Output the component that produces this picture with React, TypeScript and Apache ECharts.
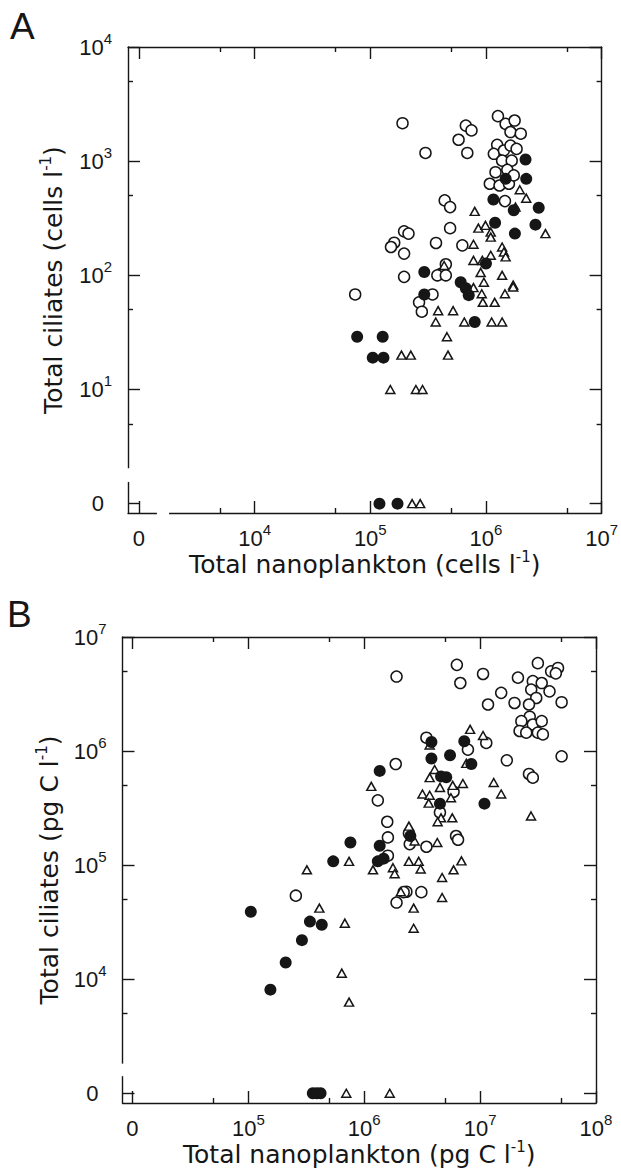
import React, { useEffect, useRef } from "react";
import * as echarts from "echarts";

// ---------------- Panel A: abundance, [total nanoplankton (cells l-1), total ciliates (cells l-1)]
const panelAOpenCircles: [number, number][] = [
  [1.9e5, 2150], [1.27e6, 2480], [1.48e6, 2120], [1.77e6, 2270], [1.63e6, 1800], [2.0e6, 1740],
  [6.7e5, 2050], [7.5e5, 1860], [5.8e5, 1540], [6.9e5, 1180], [3.0e5, 1180], [1.25e6, 1390],
  [1.17e6, 1160], [1.43e6, 1240], [1.63e6, 1370], [1.84e6, 1280], [1.38e6, 1010], [1.67e6, 1010],
  [1.21e6, 800], [1.53e6, 840], [1.08e6, 634], [1.31e6, 612], [1.58e6, 634], [1.74e6, 750],
  [1.46e6, 447], [4.4e5, 453], [4.9e5, 396], [4.9e5, 259], [1.96e5, 243], [2.14e5, 232],
  [1.61e5, 193], [1.51e5, 177], [1.96e5, 155], [3.7e5, 192], [6.25e5, 183], [1.96e5, 97],
  [4.5e5, 125], [4.07e5, 103], [3.8e5, 100], [4.5e5, 100], [7.4e4, 68], [3.45e5, 68],
  [2.64e5, 58], [2.79e5, 48],
];
const panelAFilledCircles: [number, number][] = [
  [2.2e6, 1035], [2.23e6, 700], [1.48e6, 700], [1.16e6, 462], [1.74e6, 371], [2.86e6, 391],
  [1.2e6, 289], [1.78e6, 232], [2.68e6, 278], [2.93e5, 107], [6.05e5, 87], [1.0e6, 127],
  [2.93e5, 68], [6.7e5, 77], [7.1e5, 67], [8.0e5, 39], [7.7e4, 29], [1.28e5, 29],
  [1.05e5, 19], [1.3e5, 19], [1.2e5, 0], [1.72e5, 0],
];
const panelATriangles: [number, number][] = [
  [1.96e6, 562], [2.23e6, 474], [1.8e6, 396], [8.0e5, 363], [8.6e5, 259], [9.9e5, 274],
  [1.1e6, 239], [1.1e6, 216], [3.27e6, 232], [7.8e5, 187], [1.38e6, 177], [1.43e6, 160],
  [1.48e6, 145], [7.8e5, 135], [9.3e5, 135], [1.1e6, 150], [9.0e5, 106], [9.6e5, 87],
  [1.38e6, 100], [1.72e6, 82], [4.35e5, 122], [7.8e5, 78], [9.2e5, 69], [1.46e6, 69],
  [1.72e6, 79], [9.4e5, 58], [1.19e6, 58], [3.86e5, 49], [5.2e5, 49], [3.68e5, 39],
  [6.5e5, 39], [1.12e6, 39], [1.38e6, 39], [4.6e5, 29], [1.86e5, 20], [2.24e5, 20],
  [4.7e5, 20], [1.49e5, 10], [2.48e5, 10], [2.83e5, 10], [2.3e5, 0], [2.7e5, 0],
];

// ---------------- Panel B: biomass, [total nanoplankton (pg C l-1), total ciliates (pg C l-1)]
const panelBOpenCircles: [number, number][] = [
  [1.9e6, 4.5e6], [6.3e6, 5.7e6], [6.75e6, 3.95e6], [1.06e7, 4.74e6], [1.52e7, 3.24e6],
  [1.17e7, 2.56e6], [1.98e7, 2.64e6], [2.12e7, 4.4e6], [3.15e7, 5.9e6], [4.1e7, 5.0e6],
  [2.85e7, 4.1e6], [3.4e7, 3.95e6], [2.76e7, 3.46e6], [3.97e7, 3.34e6], [3.05e7, 2.92e6],
  [2.64e7, 2.56e6], [2.68e7, 2.0e6], [2.27e7, 1.83e6], [2.85e7, 1.71e6], [3.4e7, 1.83e6],
  [2.19e7, 1.5e6], [2.5e7, 1.45e6], [3.15e7, 1.45e6], [3.48e7, 1.4e6], [1.7e7, 8.3e5],
  [2.64e7, 6.3e5], [2.85e7, 5.85e5], [4.7e7, 5.35e6], [4.5e7, 4.8e6], [5.05e7, 2.68e6],
  [5.05e7, 9.0e5], [3.44e6, 1.31e6], [1.13e7, 1.18e6], [1.87e6, 7.7e5], [1.31e6, 3.7e5],
  [1.58e6, 2.4e5], [5.9e6, 4.4e5], [7.85e6, 1.03e6], [4.5e6, 2.9e5], [1.6e6, 1.75e5],
  [2.43e6, 1.9e5], [2.47e6, 1.53e5], [3.44e6, 1.45e5], [1.6e6, 1.21e5], [6.2e6, 1.8e5],
  [6.45e6, 1.67e5], [2.57e5, 5.4e4], [2.31e6, 5.85e4], [3.11e6, 5.8e4], [1.9e6, 4.7e4],
  [2.19e6, 5.8e4],
];
const panelBFilledCircles: [number, number][] = [
  [1.36e6, 6.7e5], [3.8e6, 1.2e6], [3.8e6, 8.6e5], [5.5e6, 9.2e5], [7.3e6, 1.22e6],
  [8.4e6, 7.7e5], [5.1e6, 5.9e5], [4.6e6, 6.0e5], [4.5e6, 3.46e5], [1.09e7, 3.46e5],
  [7.6e5, 1.58e5], [1.36e6, 1.48e5], [5.4e5, 1.08e5], [1.31e6, 1.08e5], [1.47e6, 1.14e5],
  [2.5e6, 1.8e5], [1.05e5, 3.9e4], [3.4e5, 3.2e4], [4.3e5, 3.0e4], [2.9e5, 2.2e4],
  [2.1e5, 1.4e4], [1.55e5, 8.1e3], [3.6e5, 0], [3.9e5, 0], [4.2e5, 0],
];
const panelBTriangles: [number, number][] = [
  [8.2e6, 1.55e6], [1.06e7, 1.37e6], [3.67e6, 1.13e6], [7.6e6, 7.8e5], [4.05e6, 6.9e5],
  [3.67e6, 5.85e5], [4.5e6, 4.8e5], [5.8e6, 5.0e5], [7.1e6, 5.2e5], [3.18e6, 4.2e5],
  [3.67e6, 4.1e5], [3.6e6, 3.5e5], [5.6e6, 3.9e5], [1.31e7, 5.3e5], [1.52e7, 4.2e5],
  [1.15e6, 4.9e5], [4.6e6, 2.6e5], [5.75e6, 2.6e5], [4.3e6, 2.4e5], [2.43e6, 2.2e5],
  [2.75e7, 2.7e5], [2.72e6, 1.63e5], [4.27e6, 1.58e5], [7.4e5, 1.08e5], [3.2e5, 9.1e4],
  [1.19e6, 9.1e4], [1.77e6, 9.5e4], [1.83e6, 8.4e4], [2.43e6, 1.08e5], [2.95e6, 1.08e5],
  [3.07e6, 9.25e4], [6.9e6, 1.09e5], [5.9e6, 9.1e4], [4.7e6, 7.8e4], [4.7e6, 5.2e4],
  [2.07e6, 5.85e4], [2.67e6, 4.2e4], [2.67e6, 2.8e4], [4.1e5, 4.2e4], [6.8e5, 3.1e4],
  [6.4e5, 1.13e4], [7.4e5, 6.3e3], [7.0e5, 0], [1.66e6, 0],
];

// ---------------- Axes: labelled decades (10^n) and the "0" slot used for zero values
const aXDecades = [4, 5, 6, 7];
const aYDecades = [1, 2, 3, 4];
const bXDecades = [5, 6, 7, 8];
const bYDecades = [4, 5, 6, 7];
const aXZeroSlot = 3;
const aYZeroSlot = 0;
const bXZeroSlot = 4;
const bYZeroSlot = 3;

const panelLabels = ["A", "B"];
const aXTitle = "Total nanoplankton (cells l{s|-1})";
const aYTitle = "Total ciliates (cells l{s|-1})";
const bXTitle = "Total nanoplankton (pg C l{s|-1})";
const bYTitle = "Total ciliates (pg C l{s|-1})";

// ---------------- styling
const INK = "#161616";
const FONT_TICK = "'Liberation Sans', Arial, Helvetica, sans-serif";
const FONT_TITLE = "'DejaVu Sans', 'Liberation Sans', sans-serif";
const LOG5 = Math.log10(5);

const toLog = (v: number, zeroSlot: number) => (v > 0 ? Math.log10(v) : zeroSlot);

const tickRich = {
  b: { fontSize: 22, fontFamily: FONT_TICK, color: INK },
  s: { fontSize: 15, fontFamily: FONT_TICK, color: INK, padding: [0, 0, 17, 0] },
  zy: { fontSize: 22, fontFamily: FONT_TICK, color: INK, padding: [0, 8, 0, 0] },
  zx: { fontSize: 22, fontFamily: FONT_TICK, color: INK, padding: [5, 0, 0, 0] },
};

const titleStyle = {
  fontSize: 25,
  fontFamily: FONT_TITLE,
  color: INK,
  rich: {
    s: { fontSize: 15, fontFamily: FONT_TITLE, color: INK, padding: [0, 0, 15, 0] },
  },
};

const lineStyle = { color: INK, width: 1.4 };

function makeAxes(
  gridIndex: number,
  dim: "x" | "y",
  min: number,
  max: number,
  zeroSlot: number,
  decades: number[],
  name: string,
  nameGap: number
) {
  const majors = [zeroSlot, ...decades];
  const minors = [zeroSlot, ...decades.slice(0, -1)].map((d) => d + LOG5);
  const mainPos = dim === "x" ? "bottom" : "left";
  const oppPos = dim === "x" ? "top" : "right";
  const base = { type: "value", gridIndex, min, max, splitLine: { show: false }, silent: true };
  const formatter = (v: number) =>
    Math.abs(v - zeroSlot) < 1e-6 ? (dim === "y" ? "{zy|0}" : "{zx|0}") : `{b|10}{s|${Math.round(v)}}`;
  return [
    {
      ...base,
      position: mainPos,
      axisLine: { show: true, onZero: false, lineStyle },
      axisTick: { show: true, inside: true, length: 12, customValues: majors, lineStyle },
      axisLabel: { show: true, customValues: majors, formatter, rich: tickRich, margin: dim === "x" ? 9 : 16 },
      name,
      nameLocation: "middle",
      nameGap,
      nameRotate: dim === "y" ? 90 : 0,
      nameTextStyle: titleStyle,
    },
    {
      ...base,
      position: mainPos,
      axisLine: { show: false, onZero: false },
      axisTick: { show: true, inside: true, length: 5, customValues: minors, lineStyle },
      axisLabel: { show: false },
    },
    {
      ...base,
      position: oppPos,
      axisLine: { show: true, onZero: false, lineStyle },
      axisTick: { show: true, inside: true, length: 12, customValues: majors, lineStyle },
      axisLabel: { show: false },
    },
    {
      ...base,
      position: oppPos,
      axisLine: { show: false, onZero: false },
      axisTick: { show: true, inside: true, length: 5, customValues: minors, lineStyle },
      axisLabel: { show: false },
    },
  ];
}

// axis ranges (log10 units)
const aXRange = [2.905, 7.0];
const aYRange = [-0.082, 4.0];
const bXRange = [3.914, 8.0];
const bYRange = [2.915, 7.0];

function scatter(
  data: [number, number][],
  kind: "open" | "filled" | "triangle",
  axisIndex: number,
  xZero: number,
  yZero: number,
  z: number
) {
  const pts = data.map(([x, y]) => [toLog(x, xZero), toLog(y, yZero)]);
  const common = {
    type: "scatter",
    xAxisIndex: axisIndex,
    yAxisIndex: axisIndex,
    data: pts,
    silent: true,
    z,
    emphasis: { disabled: true },
  };
  if (kind === "open")
    return { ...common, symbol: "circle", symbolSize: 11, itemStyle: { color: "#fff", borderColor: INK, borderWidth: 1.5, opacity: 1 } };
  if (kind === "filled")
    return { ...common, symbol: "circle", symbolSize: 12, itemStyle: { color: INK, opacity: 1 } };
  return { ...common, symbol: "triangle", symbolSize: [9, 8], itemStyle: { color: "#fff", borderColor: INK, borderWidth: 1.5, opacity: 1 } };
}

function buildOption() {
  return {
    animation: false,
    backgroundColor: "#fff",
    grid: [
      { left: 128, top: 47, width: 475, height: 466 },
      { left: 122.5, top: 637, width: 473.5, height: 466 },
    ],
    xAxis: [
      ...makeAxes(0, "x", aXRange[0], aXRange[1], aXZeroSlot, aXDecades, aXTitle, 34),
      ...makeAxes(1, "x", bXRange[0], bXRange[1], bXZeroSlot, bXDecades, bXTitle, 33),
    ],
    yAxis: [
      ...makeAxes(0, "y", aYRange[0], aYRange[1], aYZeroSlot, aYDecades, aYTitle, 60),
      ...makeAxes(1, "y", bYRange[0], bYRange[1], bYZeroSlot, bYDecades, bYTitle, 58),
    ],
    series: [
      scatter(panelAOpenCircles, "open", 0, aXZeroSlot, aYZeroSlot, 2),
      scatter(panelATriangles, "triangle", 0, aXZeroSlot, aYZeroSlot, 3),
      scatter(panelAFilledCircles, "filled", 0, aXZeroSlot, aYZeroSlot, 4),
      scatter(panelBOpenCircles, "open", 4, bXZeroSlot, bYZeroSlot, 2),
      scatter(panelBTriangles, "triangle", 4, bXZeroSlot, bYZeroSlot, 3),
      scatter(panelBFilledCircles, "filled", 4, bXZeroSlot, bYZeroSlot, 4),
    ],
  };
}

// axis-break gaps (log10 units)
const aYGap = [0.19, 0.31];
const aXGap = [3.155, 3.26];
const bYGap = [3.15, 3.26];

export default function App() {
  const ref = useRef<HTMLDivElement>(null);
  useEffect(() => {
    if (!ref.current) return;
    const chart = echarts.init(ref.current, null, { renderer: "svg" });
    chart.setOption(buildOption() as any);

    const px = (ai: number, x: number, y: number) =>
      chart.convertToPixel({ xAxisIndex: ai, yAxisIndex: ai } as any, [x, y]) as number[];

    const aLeft = px(0, aXRange[0], 1)[0];
    const aBottom = px(0, 4, aYRange[0])[1];
    const aG1 = px(0, aXRange[0], aYGap[1])[1];
    const aG2 = px(0, aXRange[0], aYGap[0])[1];
    const aX1 = px(0, aXGap[0], 1)[0];
    const aX2 = px(0, aXGap[1], 1)[0];
    const bLeft = px(4, bXRange[0], 4)[0];
    const bG1 = px(4, bXRange[0], bYGap[1])[1];
    const bG2 = px(4, bXRange[0], bYGap[0])[1];
    const aTop = px(0, 4, aYRange[1])[1];
    const bTop = px(4, 5, bYRange[1])[1];

    const elements: any[] = [
      {
        id: "labelA",
        type: "text",
        x: 10,
        y: aTop - 21,
        z: 100,
        style: { text: panelLabels[0], fontSize: 37, fontFamily: FONT_TICK, fill: INK, verticalAlign: "middle" },
      },
      {
        id: "labelB",
        type: "text",
        x: 7,
        y: bTop - 23,
        z: 100,
        style: { text: panelLabels[1], fontSize: 37, fontFamily: FONT_TICK, fill: INK, verticalAlign: "middle" },
      },
      { id: "gapAy", type: "rect", z: 100, shape: { x: aLeft - 4, y: aG1, width: 8, height: aG2 - aG1 }, style: { fill: "#fff" } },
      { id: "gapAx", type: "rect", z: 100, shape: { x: aX1, y: aBottom - 4, width: aX2 - aX1, height: 8 }, style: { fill: "#fff" } },
      { id: "gapBy", type: "rect", z: 100, shape: { x: bLeft - 4, y: bG1, width: 8, height: bG2 - bG1 }, style: { fill: "#fff" } },
    ];
    chart.setOption({ graphic: { elements } } as any);

    return () => chart.dispose();
  }, []);
  return (
    <div
      ref={ref}
      style={{ position: "absolute", left: 0, top: 0, width: 621, height: 1170, background: "#fff" }}
    />
  );
}
